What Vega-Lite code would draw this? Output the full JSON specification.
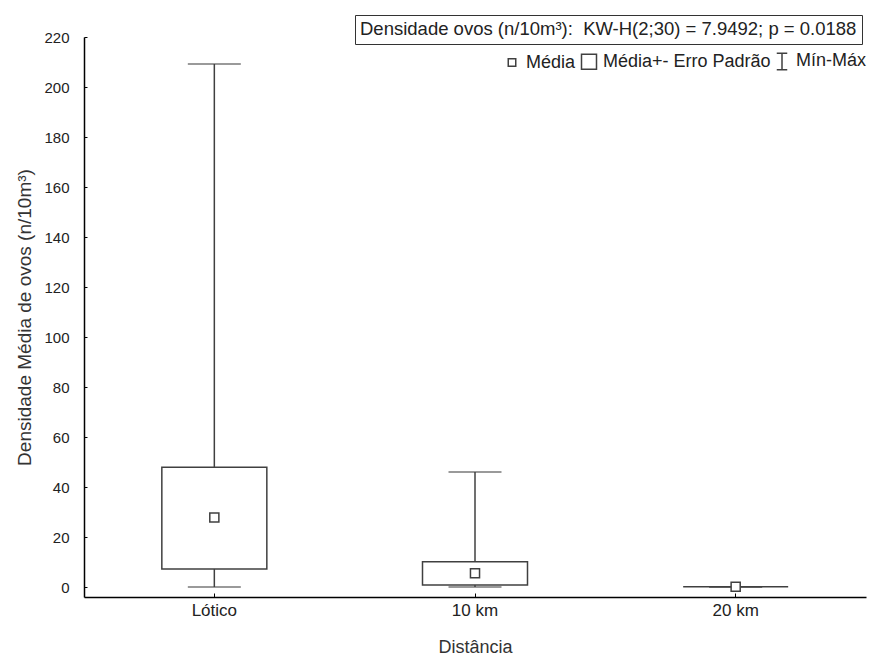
{
  "$schema": "https://vega.github.io/schema/vega-lite/v6.json",
  "autosize": {"type": "none"},
  "padding": {"left": 84, "top": 37, "right": 7, "bottom": 60},
  "width": 782,
  "height": 560,
  "background": "white",
  "config": {
    "font": "Liberation Sans",
    "view": {"stroke": null},
    "axis": {"grid": false, "domainColor": "#000000", "tickColor": "#000000", "labelColor": "#222222", "titleColor": "#333333", "titleFontWeight": "normal"}
  },
  "data": {
    "values": [
      {"Distancia": "Lótico", "media": 27.8, "ep_inf": 7.2, "ep_sup": 47.9, "min": 0, "max": 209.2, "item": "Média"},
      {"Distancia": "10 km", "media": 5.5, "ep_inf": 0.8, "ep_sup": 10.1, "min": 0, "max": 46.0, "item": "Média"},
      {"Distancia": "20 km", "media": 0.1, "ep_inf": 0.1, "ep_sup": 0.1, "min": 0, "max": 0.1, "item": "Média"}
    ]
  },
  "encoding": {
    "x": {
      "field": "Distancia", "type": "nominal", "sort": ["Lótico", "10 km", "20 km"],
      "scale": {"type": "band", "paddingInner": 0, "paddingOuter": 0},
      "axis": {"title": "Distância", "labelAngle": 0, "tickSize": -4, "labelPadding": 9, "labelFontSize": 17, "titleFontSize": 18, "titlePadding": 20, "domainWidth": 1.5}
    }
  },
  "layer": [
    {
      "mark": {"type": "rule", "color": "#404040", "strokeWidth": 1.5},
      "encoding": {
        "y": {"field": "min", "type": "quantitative", "scale": {"domain": [-4, 220], "nice": false, "zero": false},
          "axis": {"title": "Densidade Média de ovos (n/10m³)", "values": [0, 20, 40, 60, 80, 100, 120, 140, 160, 180, 200, 220], "tickSize": -3, "labelFontSize": 15, "titleFontSize": 19, "labelPadding": 18, "titlePadding": 9, "domainWidth": 1.5}},
        "y2": {"field": "max"}
      }
    },
    {
      "mark": {"type": "tick", "color": "#404040", "size": 53, "thickness": 1.5, "orient": "horizontal"},
      "encoding": {"y": {"field": "max", "type": "quantitative"}}
    },
    {
      "mark": {"type": "tick", "color": "#404040", "size": 53, "thickness": 1.5, "orient": "horizontal"},
      "encoding": {"y": {"field": "min", "type": "quantitative"}}
    },
    {
      "mark": {"type": "bar", "fill": "white", "stroke": "#404040", "size": 105},
      "encoding": {
        "y": {"field": "ep_inf", "type": "quantitative"},
        "y2": {"field": "ep_sup"},
        "strokeWidth": {
          "datum": "kw",
          "scale": {"type": "ordinal", "domain": ["kw"], "range": [1.5]},
          "legend": {
            "title": "\u00a0Densidade ovos (n/10m³):\u00a0\u00a0KW-H(2;30) = 7.9492; p = 0.0188",
            "values": [],
            "orient": "none", "legendX": 271, "legendY": -22,
            "strokeColor": "#333333", "padding": 5,
            "titleFontSize": 18.5, "titleFontWeight": "normal", "titleColor": "#222222", "titleLimit": 700
          }
        }
      }
    },
    {
      "mark": {"type": "point", "filled": true, "color": "white", "stroke": "#404040", "strokeWidth": 1.5, "size": 330, "opacity": 1},
      "encoding": {
        "y": {"field": "media", "type": "quantitative"},
        "shape": {
          "field": "item", "type": "nominal",
          "scale": {
            "domain": ["Média", "Média+- Erro Padrão", "Mín-Máx"],
            "range": ["M-0.5,-0.5H0.5V0.5H-0.5Z", "M-1,-1H1V1H-1Z", "M-0.7,-1.1H0.7M0,-1.1V1.1M-0.7,1.1H0.7"]
          },
          "legend": {
            "title": null, "orient": "none", "legendX": 419, "legendY": 15,
            "direction": "horizontal", "columnPadding": 2, "labelOffset": 5,
            "symbolSize": 225,
            "labelFontSize": 18, "labelColor": "#222222", "labelLimit": 300,
            "encode": {"symbols": {"update": {
              "shape": {"scale": "shape", "field": "value"},
              "size": {"value": 225},
              "fill": {"value": "white"},
              "stroke": {"value": "#333333"},
              "strokeWidth": {"value": 1.3},
              "opacity": {"value": 1},
              "fillOpacity": {"value": 1},
              "strokeOpacity": {"value": 1}
            }}}
          }
        }
      }
    }
  ]
}
